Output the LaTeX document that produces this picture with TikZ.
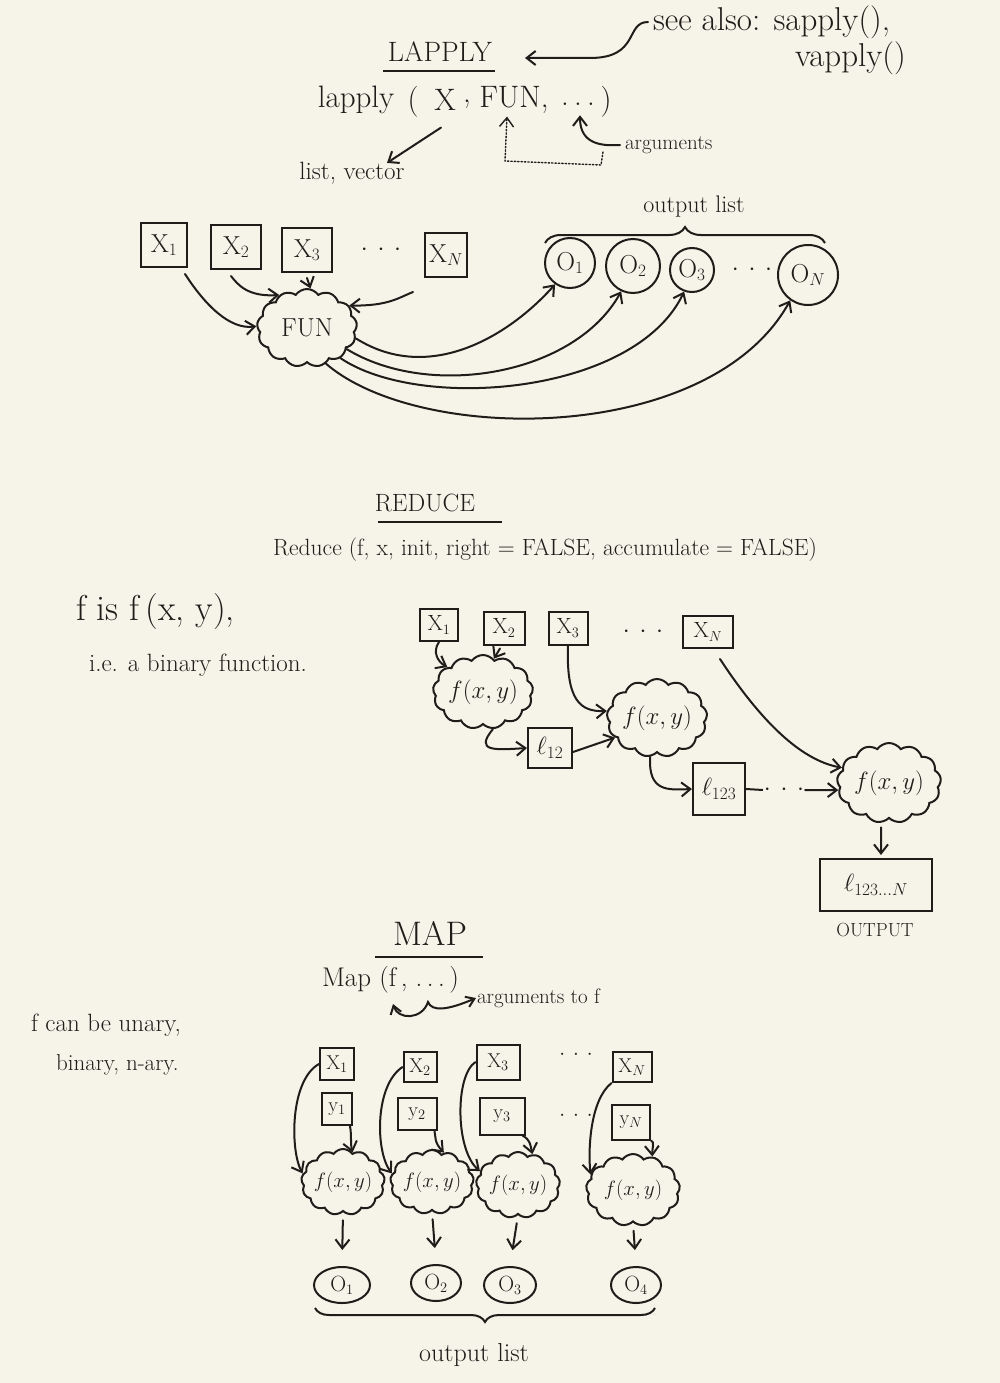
\documentclass[tikz,border=0pt]{standalone}
\usetikzlibrary{shapes.symbols,shapes.geometric,arrows.meta,decorations.pathreplacing}
\definecolor{paper}{RGB}{246,243,233}
\definecolor{ink}{RGB}{32,28,26}
\newcommand\fsz[1]{\fontsize{#1}{#1}\selectfont}
\begin{document}
\begin{tikzpicture}[x=1pt,y=-1pt,color=ink,line width=2pt,
  box/.style={draw,rectangle,minimum width=46pt,minimum height=44pt,inner sep=1pt,font=\fsz{26}},
  rbox/.style={box,minimum width=38pt,minimum height=32pt,font=\fsz{22}},
  mbox/.style={box,minimum width=32pt,minimum height=30pt,font=\fsz{20}},
  onode/.style={draw,circle,inner sep=0pt,font=\fsz{26}},
  mo/.style={draw,ellipse,minimum width=56pt,minimum height=36pt,inner sep=0pt,font=\fsz{22}},
  cl/.style={draw,cloud,cloud puffs=13,cloud puff arc=110,cloud ignores aspect,inner sep=0pt},
  arr/.style={-{Straight Barb[length=9pt,width=14pt]},line cap=round},
  dotarr/.style={arr,dotted,line width=1.4pt},
  txt/.style={inner sep=0pt}]
\fill[paper] (0,0) rectangle (1000,1383);
\useasboundingbox (0,0) rectangle (1000,1383);

%%%%%%%%%%%%%%%% LAPPLY
\node[txt,font=\fsz{28}] (ltitle) at (440,52) {LAPPLY};
\draw (383,71) -- (495,71);
\node[txt,font=\fsz{33},anchor=west] (seealso) at (652,22) {see also: sapply(),};
\node[txt,font=\fsz{33},anchor=west] (vapply) at (794,58) {vapply()};
\draw[arr] ([xshift=-4pt]seealso.west) .. controls (625,22) and (640,58) .. (590,58) -- ([xshift=32pt,yshift=-6pt]ltitle.east);

\node[txt,font=\fsz{31}] (lfn) at (356,100) {lapply};
\node[txt,font=\fsz{31}] (lpo) at (413,102) {(};
\node[txt,font=\fsz{31}] (lX) at (445,100) {X};
\node[txt,font=\fsz{31}] (lc1) at (467,104) {,};
\node[txt,font=\fsz{31}] (lFUN) at (514,100) {FUN,};
\node[txt,font=\fsz{31}] (ldots) at (578,104) {.\,.\,.};
\node[txt,font=\fsz{31}] (lpc) at (606,102) {)};

\node[txt,font=\fsz{25}] (lv) at (352,173) {list, vector};
\draw[arr] ([shift={(-4,16)}]lX.south) -- ([xshift=35pt,yshift=-2pt]lv.north);

\node[txt,font=\fsz{21},anchor=west] (largs) at (624,145) {arguments};
\draw[arr] ([xshift=-4pt]largs.west) .. controls (592,147) and (580,138) .. ([xshift=2pt,yshift=-9pt]ldots.south);
\coordinate (dstart) at (603,152);
\draw[dotarr] (dstart) -- (601,165) -- (505,161) -- ([xshift=-7pt,yshift=-2pt]lFUN.south);

\node[txt,font=\fsz{24}] (lol) at (694,207) {output list};
\draw[decorate,decoration={brace,amplitude=16pt}] (545,243) -- (825,243);

\node[box] (x1) at (164,245) {X$_1$};
\node[box,minimum width=50pt] (x2) at (236,247) {X$_2$};
\node[box,minimum width=50pt] (x3) at (307,250) {X$_3$};
\node[txt,font=\fsz{24}] (ldd) at (381,250) {$\cdot\,\cdot\,\cdot$};
\node[box,minimum width=42pt] (xn) at (446,255) {X$_N$};

\node[onode,minimum size=50pt] (o1) at (570,263) {O$_1$};
\node[onode,minimum size=54pt] (o2) at (633,266) {O$_2$};
\node[onode,minimum size=44pt] (o3) at (692,270) {O$_3$};
\node[txt,font=\fsz{24}] (odd) at (752,270) {$\cdot\,\cdot\,\cdot$};
\node[onode,minimum size=60pt] (on) at (808,275) {O$_N$};

\node[cl,minimum width=100pt,minimum height=78pt,font=\fsz{26}] (fun) at (307,328) {FUN};

\draw[arr] ([shift={(-3,6)}]x1.south east) .. controls (205,305) and (230,330) .. (fun.178);
\draw[arr] ([shift={(-5,6)}]x2.south) .. controls (238,285) and (248,297) .. (fun.130);
\draw[arr] ([yshift=-5pt]x3.south) -- (fun.85);
\draw[arr] ([shift={(-33,14)}]xn.south) .. controls (398,298) and (388,306) .. (fun.28);

\draw[arr] (fun.-12) .. controls (430,385) and (510,335) .. (o1.235);
\draw[arr] (fun.-28) .. controls (430,400) and (575,375) .. (o2.245);
\draw[arr] (fun.-42) .. controls (420,412) and (635,395) .. (o3.250);
\draw[arr] (fun.-62) .. controls (420,445) and (710,445) .. (on.235);

%%%%%%%%%%%%%%%% REDUCE
\node[txt,font=\fsz{25}] (rtitle) at (425,503) {REDUCE};
\draw (378,522) -- (502,522);
\node[txt,font=\fsz{23.5}] (rcall) at (545,550) {Reduce (f, x, init, right = FALSE, accumulate = FALSE)};
\node[txt,font=\fsz{36},anchor=west] (rf) at (75,612) {f is f\,(x, y),};
\node[txt,font=\fsz{25},anchor=west] (rie) at (88,665) {i.e. a binary function.};

\node[rbox] (rx1) at (439,625) {X$_1$};
\node[rbox,minimum width=41pt,minimum height=33pt] (rx2) at (504,628) {X$_2$};
\node[rbox,minimum width=39pt,minimum height=33pt] (rx3) at (568,628) {X$_3$};
\node[txt,font=\fsz{24}] (rdd) at (643,632) {$\cdot\,\cdot\,\cdot$};
\node[rbox,minimum width=50pt] (rxn) at (708,632) {X$_N$};

\node[cl,minimum width=96pt,minimum height=74pt,font=\fsz{26}] (rc1) at (483,692) {$f(x,y)$};
\node[cl,minimum width=90pt,minimum height=78pt,font=\fsz{26}] (rc2) at (657,718) {$f(x,y)$};
\node[cl,minimum width=104pt,minimum height=80pt,font=\fsz{26}] (rc3) at (889,783) {$f(x,y)$};

\node[box,minimum width=44pt,minimum height=40pt] (e12) at (550,748) {$\ell_{12}$};
\node[box,minimum width=52pt,minimum height=52pt] (e123) at (719,789) {$\ell_{123}$};
\node[txt,font=\fsz{24}] (rdots) at (784,790) {$\cdot\,\cdot\,\cdot$};
\node[box,minimum width=112pt,minimum height=52pt] (rout) at (876,885) {$\ell_{123\ldots N}$};
\node[txt,font=\fsz{19}] (routl) at (875,930) {OUTPUT};

\draw[arr] (rx1.south) .. controls (432,652) and (438,662) .. (rc1.145);
\draw[arr] ([xshift=-4pt,yshift=-3pt]rx2.south) -- (rc1.72);
\draw[arr] (rx3.south) .. controls (566,700) and (580,712) .. (rc2.172);
\draw[arr] ([shift={(12,10)}]rxn.south) .. controls (760,720) and (800,760) .. (rc3.162);
\draw[arr] (rc1.-75) .. controls (474,752) and (495,750) .. (e12.west);
\draw[arr] ([yshift=-4pt]e12.east) -- (rc2.205);
\draw[arr] (rc2.-100) .. controls (648,792) and (668,790) .. (e123.west);
\draw (e123.east) -- (rdots.west);
\draw[arr] (rdots.east) -- (rc3.188);
\draw[arr] ([xshift=-8pt,yshift=-8pt]rc3.south) -- ([xshift=5pt,yshift=3pt]rout.north);

%%%%%%%%%%%%%%%% MAP
\node[txt,font=\fsz{34}] (mtitle) at (430,933) {MAP};
\draw (375,957) -- (483,957);
\node[txt,font=\fsz{27},anchor=west] (mcall) at (321,980) {Map (f\,, .\,.\,.\,)};
\node[txt,font=\fsz{21},anchor=west] (margs) at (476,998) {arguments to f};
\coordinate (mfarg) at (393,1004);
\draw[{Straight Barb[length=8pt,width=11pt]}-{Straight Barb[length=8pt,width=11pt]},line cap=round]
  (mfarg) .. controls (398,1020) and (422,1020) .. (428,1002) .. controls (432,1012) and (448,1010) .. (margs.west);
\node[txt,font=\fsz{25},anchor=west] (mf1) at (30,1025) {f can be unary,};
\node[txt,font=\fsz{23},anchor=west] (mf2) at (55,1065) {binary, n-ary.};

\node[mbox,minimum width=34pt,minimum height=32pt] (mx1) at (337,1064) {X$_1$};
\node[mbox,minimum width=30pt,minimum height=32pt] (my1) at (337,1109) {y$_1$};
\node[cl,minimum width=78pt,minimum height=66pt,font=\fsz{22}] (mc1) at (343,1182) {$f(x,y)$};
\node[mo] (mo1) at (342,1285) {O$_1$};

\node[mbox,minimum width=33pt,minimum height=30pt] (mx2) at (420,1067) {X$_2$};
\node[mbox,minimum width=39pt,minimum height=32pt] (my2) at (417,1114) {y$_2$};
\node[cl,minimum width=76pt,minimum height=64pt,font=\fsz{22}] (mc2) at (432,1182) {$f(x,y)$};
\node[mo,minimum width=50pt] (mo2) at (436,1283) {O$_2$};

\node[mbox,minimum width=43pt,minimum height=35pt] (mx3) at (498,1062) {X$_3$};
\node[mbox,minimum width=45pt,minimum height=37pt] (my3) at (502,1116) {y$_3$};
\node[cl,minimum width=84pt,minimum height=66pt,font=\fsz{22}] (mc3) at (518,1185) {$f(x,y)$};
\node[mo,minimum width=52pt] (mo3) at (510,1285) {O$_3$};

\node[txt,font=\fsz{22}] (md1) at (576,1055) {$\cdot\,\cdot\,\cdot$};
\node[txt,font=\fsz{22}] (md2) at (576,1116) {$\cdot\,\cdot\,\cdot$};

\node[mbox,minimum width=39pt,minimum height=30pt] (mxn) at (632,1067) {X$_N$};
\node[mbox,minimum width=38pt,minimum height=35pt] (myn) at (631,1122) {y$_N$};
\node[cl,minimum width=94pt,minimum height=72pt,font=\fsz{22}] (mc4) at (633,1190) {$f(x,y)$};
\node[mo,minimum width=50pt] (mo4) at (636,1285) {O$_4$};

\draw[arr] (mx1.west) .. controls (290,1080) and (290,1150) .. (mc1.168);
\draw[arr] ([xshift=-3pt]my1.south east) .. controls (352,1138) and (350,1142) .. (mc1.72);
\draw[arr,shorten <=8pt,shorten >=16pt] (mc1.south) -- (mo1.north);

\draw[arr] (mx2.west) .. controls (375,1085) and (375,1150) .. (mc2.168);
\draw[arr] ([xshift=-3pt]my2.south east) .. controls (436,1138) and (434,1142) .. (mc2.68);
\draw[arr,shorten <=8pt,shorten >=16pt] (mc2.south) -- (mo2.north);

\draw[arr] (mx3.west) .. controls (455,1075) and (455,1150) .. (mc3.160);
\draw[arr] ([xshift=-3pt]my3.south east) .. controls (530,1140) and (530,1143) .. (mc3.65);
\draw[arr,shorten <=8pt,shorten >=16pt] (mc3.south) -- (mo3.north);

\draw[arr] (mxn.south west) .. controls (590,1100) and (588,1150) .. (mc4.160);
\draw[arr] (myn.south east) .. controls (655,1142) and (652,1148) .. (mc4.60);
\draw[arr,shorten <=8pt,shorten >=16pt] (mc4.south) -- (mo4.north);

\draw[decorate,decoration={brace,amplitude=14pt,mirror}] (315,1308) -- (655,1308);
\node[txt,font=\fsz{26}] (mol) at (474,1355) {output list};
\end{tikzpicture}
\end{document}
